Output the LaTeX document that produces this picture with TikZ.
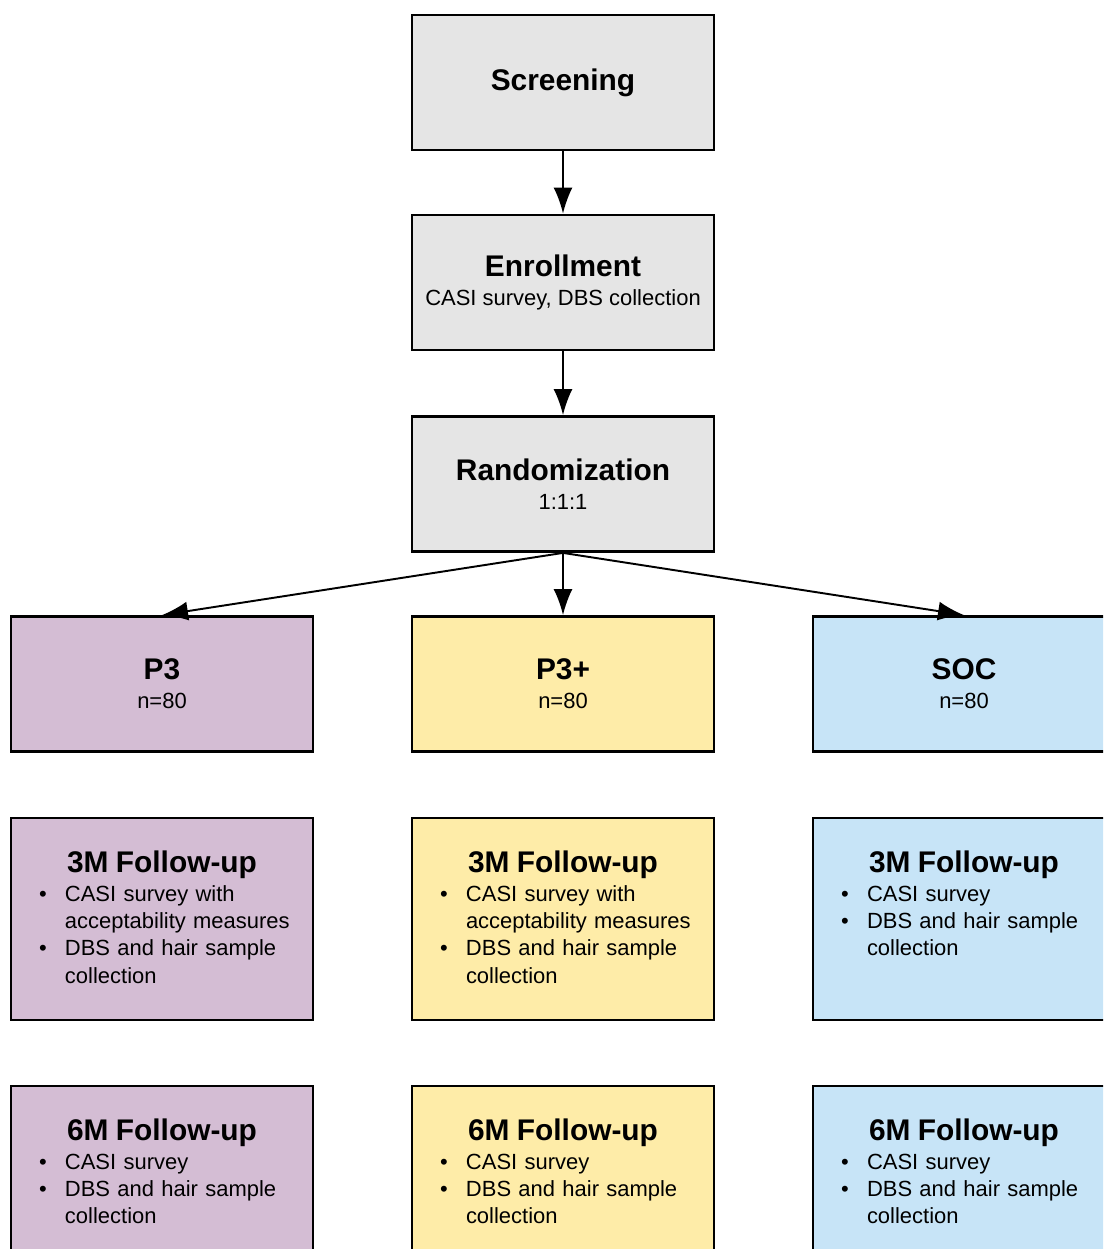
\documentclass[tikz,border=0pt]{standalone}
\usepackage{fontspec}
\setmainfont{Liberation Sans}
\usetikzlibrary{arrows.meta}

\newcommand{\boxtitle}[1]{{\fontsize{17}{16.5}\selectfont\bfseries #1}}
\newcommand{\bulletline}[1]{\par\hangindent=0.68cm\hangafter=1\noindent\hspace*{0.16cm}\makebox[0.52cm][l]{\textbullet}#1\par}

\begin{document}
\begin{tikzpicture}[>={Latex[length=5.2mm,width=3.8mm]}]

\definecolor{gcolor}{HTML}{E5E5E5}
\definecolor{pcolor}{HTML}{D4BDD4}
\definecolor{ycolor}{HTML}{FEECA8}
\definecolor{bcolor}{HTML}{C7E4F7}

\tikzstyle{stage}=[draw=black, line width=1.6pt, minimum width=6.04cm, minimum height=2.7cm, inner sep=0pt, align=center, font=\fontsize{12.5}{16.5}\selectfont]
\tikzstyle{visit}=[draw=black, line width=1.6pt, minimum height=4.04cm, text width=5.24cm, text height=0.6cm, text depth=2.48cm, inner xsep=0.4cm, inner ysep=0pt, font=\fontsize{12.5}{15.5}\selectfont]
\tikzstyle{arrow}=[line width=1.1pt, ->]

% page frame, boxes on the right and bottom run off it
\useasboundingbox (0,0) rectangle (22.06,-24.98);
\clip (0,0) rectangle (22.06,-24.98);

% top of the flow
\node[stage, fill=gcolor] (scr) at (11.26,-1.65) {\boxtitle{Screening}};
\node[stage, fill=gcolor] (enr) at (11.26,-5.65) {\boxtitle{Enrollment}\\CASI survey, DBS collection};
\node[stage, fill=gcolor] (rand) at (11.26,-9.68) {\boxtitle{Randomization}\\1:1:1};

% arms
\node[stage, fill=pcolor] (p3) at (3.24,-13.68) {\boxtitle{P3}\\n=80};
\node[stage, fill=ycolor] (p3plus) at (11.26,-13.68) {\boxtitle{P3+}\\n=80};
\node[stage, fill=bcolor] (soc) at (19.28,-13.68) {\boxtitle{SOC}\\n=80};

% 3 month visits
\node[visit, fill=pcolor] (p3m) at (3.24,-18.38) {\centering\boxtitle{3M Follow-up}\par\vspace{1.2pt}\raggedright
    \bulletline{CASI survey with acceptability measures}
    \bulletline{DBS and hair sample collection}};
\node[visit, fill=ycolor] (p3plusm) at (11.26,-18.38) {\centering\boxtitle{3M Follow-up}\par\vspace{1.2pt}\raggedright
    \bulletline{CASI survey with acceptability measures}
    \bulletline{DBS and hair sample collection}};
\node[visit, fill=bcolor] (socm) at (19.28,-18.38) {\centering\boxtitle{3M Follow-up}\par\vspace{1.2pt}\raggedright
    \bulletline{CASI survey}
    \bulletline{DBS and hair sample collection}};

% 6 month visits
\node[visit, fill=pcolor] (p6m) at (3.24,-23.74) {\centering\boxtitle{6M Follow-up}\par\vspace{1.2pt}\raggedright
    \bulletline{CASI survey}
    \bulletline{DBS and hair sample collection}};
\node[visit, fill=ycolor] (p6plusm) at (11.26,-23.74) {\centering\boxtitle{6M Follow-up}\par\vspace{1.2pt}\raggedright
    \bulletline{CASI survey}
    \bulletline{DBS and hair sample collection}};
\node[visit, fill=bcolor] (soc6m) at (19.28,-23.74) {\centering\boxtitle{6M Follow-up}\par\vspace{1.2pt}\raggedright
    \bulletline{CASI survey}
    \bulletline{DBS and hair sample collection}};

\draw[arrow] (scr.south) -- (enr.north);
\draw[arrow] (enr.south) -- (rand.north);
\draw[arrow] (rand.south) -- (p3.north);
\draw[arrow] (rand.south) -- (p3plus.north);
\draw[arrow] (rand.south) -- (soc.north);

\end{tikzpicture}
\end{document}
